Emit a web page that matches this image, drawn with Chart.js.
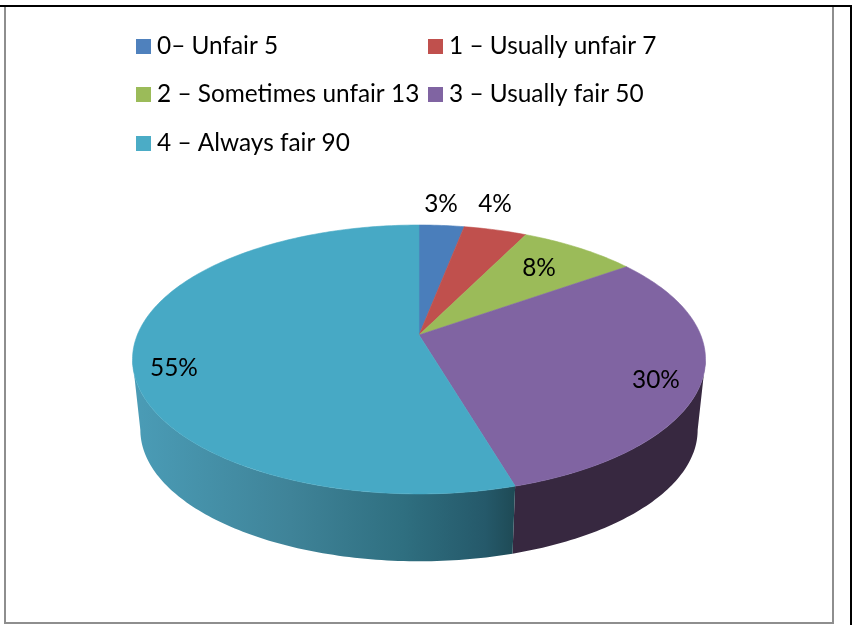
<!DOCTYPE html>
<html>
<head>
<meta charset="utf-8">
<title>Fairness pie</title>
<script src="https://cdn.jsdelivr.net/npm/chart.js@4"></script>
<style>
    html, body { margin: 0; padding: 0; background: #fff; overflow: hidden; }
    #wrap { position: relative; width: 857px; height: 625px; }
    #chart { position: absolute; left: 0; top: 0; }
    .line { position: absolute; }
    #topBlack { left: 0; top: 5px; width: 852px; height: 2px; background: #000; }
    #rightBlack { left: 850px; top: 5px; width: 2px; height: 620px; background: #000; }
    #chartBox { left: 4px; top: 6px; width: 826px; height: 615px; border: 2px solid #8e8e8e; border-top-width: 1px; }
</style>
</head>
<body>
<div id="wrap">
    <div class="line" id="chartBox"></div>
    <div class="line" id="topBlack"></div>
    <div class="line" id="rightBlack"></div>
    <canvas id="chart" width="857" height="625"></canvas>
</div>
<script>
// Chart data
const categories = ['0\u2013 Unfair 5', '1 \u2013 Usually unfair 7', '2 \u2013 Sometimes unfair 13', '3 \u2013 Usually fair 50', '4 \u2013 Always fair 90'];
const values = [5, 7, 13, 50, 90];
const sliceColors = ['#4a7ebb', '#c0504d', '#9bbb59', '#8064a2', '#47a9c5'];
const legendColors = ['#4f81bd', '#c0504d', '#9bbb59', '#8064a2', '#4bacc6'];

// Where things sit on the page
const FONT = '24.4px Lato';
const legendSpots = [[136, 39], [428, 39], [136, 87], [428, 87], [136, 136]];
const labelSpots = [[441, 204], [495, 204], [539, 268], [656, 380], [174, 368]];

// Perspective of the pie: apex on screen, radii and tilt of the top face and the bottom rim
const APEX_X = 419, APEX_Y = 335;
const TILT = -0.182;
const TOP_RIM = { a: 281.7, b: 130, drop: 0 };
const BOTTOM_RIM = { a: 274, b: 127, drop: 71 };

// Only this part of the side wall faces the viewer (canvas angles)
const WALL_FROM = 10.5 * Math.PI / 180;
const WALL_TO = 169.5 * Math.PI / 180;

// Map an angle on the pie to a spot on the screen
function rimPoint(angle, rim) {
    const u = Math.cos(angle), v = Math.sin(angle);
    const w = 1 + TILT * v;
    return [APEX_X + rim.a * u / w, APEX_Y + rim.drop + rim.b * v / w];
}

function traceRim(ctx, from, to, rim) {
    const steps = Math.max(2, Math.ceil(Math.abs(to - from) * 60));
    for (let i = 0; i <= steps; i++) {
        const p = rimPoint(from + (to - from) * i / steps, rim);
        ctx.lineTo(p[0], p[1]);
    }
}

function wallFill(ctx, index) {
    if (index === 3) return '#372840';
    const grad = ctx.createLinearGradient(141, 0, 515, 0);
    grad.addColorStop(0, '#4a9bb5');
    grad.addColorStop(0.4, '#3f8398');
    grad.addColorStop(0.7, '#2f6f80');
    grad.addColorStop(0.92, '#25596a');
    grad.addColorStop(1, '#1e4a55');
    return grad;
}

// Draws the arcs of the pie as a tilted disc, from the angles Chart.js worked out
const pie3d = {
    id: 'pie3d',
    beforeDatasetDraw(chart) {
        const ctx = chart.ctx;
        const arcs = chart.getDatasetMeta(0).data;
        ctx.save();

        // side wall first
        arcs.forEach((arc, i) => {
            const from = Math.max(arc.startAngle, WALL_FROM);
            const to = Math.min(arc.endAngle, WALL_TO);
            if (to <= from) return;
            ctx.beginPath();
            traceRim(ctx, from, to, TOP_RIM);
            traceRim(ctx, to, from, BOTTOM_RIM);
            ctx.closePath();
            ctx.fillStyle = wallFill(ctx, i);
            ctx.fill();
        });

        // top face
        arcs.forEach((arc, i) => {
            ctx.beginPath();
            ctx.moveTo(APEX_X, APEX_Y);
            traceRim(ctx, arc.startAngle, arc.endAngle, TOP_RIM);
            ctx.closePath();
            ctx.fillStyle = sliceColors[i];
            ctx.strokeStyle = sliceColors[i];
            ctx.lineWidth = 0.6;
            ctx.fill();
            ctx.stroke();
        });

        ctx.restore();
        return false;
    },
    afterDraw(chart) {
        const ctx = chart.ctx;
        const total = values.reduce((a, b) => a + b, 0);
        ctx.save();
        ctx.font = FONT;
        ctx.fillStyle = '#000';

        // legend
        ctx.textAlign = 'left';
        ctx.textBaseline = 'middle';
        categories.forEach((name, i) => {
            const spot = legendSpots[i];
            ctx.fillStyle = legendColors[i];
            ctx.fillRect(spot[0], spot[1], 15, 15);
            ctx.fillStyle = '#000';
            ctx.fillText(name, spot[0] + 21, spot[1] + 7);
        });

        // percentages
        ctx.textAlign = 'center';
        values.forEach((v, i) => {
            const pct = Math.round(v / total * 100) + '%';
            ctx.fillText(pct, labelSpots[i][0], labelSpots[i][1]);
        });
        ctx.restore();
    }
};

new Chart(document.getElementById('chart').getContext('2d'), {
    type: 'pie',
    data: {
        labels: categories,
        datasets: [{ data: values, backgroundColor: sliceColors, borderWidth: 0 }]
    },
    options: {
        responsive: false,
        animation: false,
        plugins: {
            legend: { display: false },
            tooltip: { enabled: false }
        }
    },
    plugins: [pie3d]
});
</script>
</body>
</html>
